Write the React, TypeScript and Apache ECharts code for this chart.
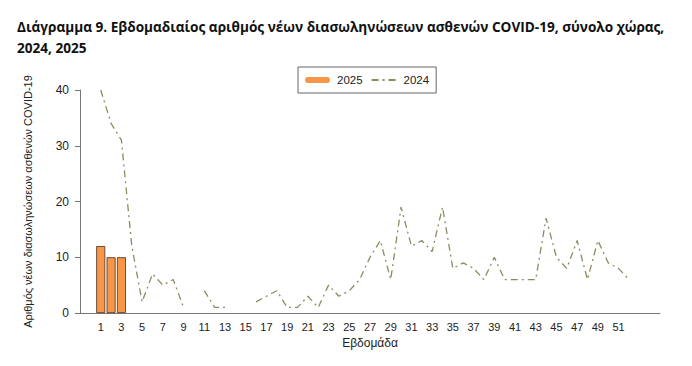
import React, { useEffect, useRef } from "react";
import * as echarts from "echarts";

const TITLE_LINE1 = "Διάγραμμα 9. Εβδομαδιαίος αριθμός νέων διασωληνώσεων ασθενών COVID-19, σύνολο χώρας,";
const TITLE_LINE2 = "2024, 2025";
const Y_NAME = "Αριθμός νέων διασωληνώσεων ασθενών COVID-19";
const X_NAME = "Εβδομάδα";

const weeks = [
  1, 2, 3, 4, 5, 6, 7, 8, 9, 10, 11, 12, 13, 14, 15, 16, 17, 18, 19, 20, 21, 22, 23, 24, 25, 26,
  27, 28, 29, 30, 31, 32, 33, 34, 35, 36, 37, 38, 39, 40, 41, 42, 43, 44, 45, 46, 47, 48, 49, 50, 51, 52,
];
// axis padding categories (no data) before week 1 and after week 52
const padBefore = ["-1", "0"];
const padAfter = ["53", "54", "55"];

const values2024: (number | null)[] = [
  40, 34, 31, 12, 2, 7, 5, 6, 1, null, 4, 1, 1, null, null, 2, 3, 4, 1, 1, 3, 1, 5, 3, 4, 6,
  10, 13, 6, 19, 12, 13, 11, 19, 8, 9, 8, 6, 10, 6, 6, 6, 6, 17, 10, 8, 13, 6, 13, 9, 8, 6,
];
const weeks2025 = [1, 2, 3];
const values2025 = [12, 10, 10];

const yTicks = { min: 0, max: 40, interval: 10 };

export default function App() {
  const ref = useRef<HTMLDivElement>(null);
  useEffect(() => {
    if (!ref.current) return;
    const chart = echarts.init(ref.current, undefined, { renderer: "svg" });
    const cats = [...padBefore, ...weeks.map(String), ...padAfter];
    const font = "Liberation Sans, Arial, sans-serif";
    chart.setOption({
      animation: false,
      textStyle: { fontFamily: font },
      title: {
        text: TITLE_LINE1 + "\n" + TITLE_LINE2,
        left: 12,
        top: 11,
        textStyle: {
          fontFamily: "Open Sans, sans-serif",
          fontWeight: "bold",
          fontSize: 13.6,
          lineHeight: 21,
          color: "#111",
        },
      },
      legend: {
        left: 298,
        top: 67,
        orient: "horizontal",
        borderColor: "#666",
        borderWidth: 1,
        padding: [7, 7, 7, 7],
        itemGap: 8,
        itemWidth: 25,
        itemHeight: 6,
        textStyle: { fontSize: 11.5, color: "#222", fontFamily: font, padding: [0, 0, 0, 2] },
        data: [
          {
            name: "2025",
            icon: "path://M3,0 L22,0 A3,3 0 0 1 22,6 L3,6 A3,3 0 0 1 3,0 Z",
            itemStyle: { borderWidth: 0, color: "#F79646" },
          },
          { name: "2024", itemStyle: { opacity: 0 } },
        ],
      },
      grid: { left: 80, right: 32, top: 90, bottom: 53, containLabel: false },
      xAxis: {
        type: "category",
        data: cats,
        boundaryGap: false,
        name: X_NAME,
        nameLocation: "middle",
        nameGap: 21,
        nameTextStyle: { fontSize: 12, color: "#222", fontFamily: font },
        axisLine: { show: true, lineStyle: { color: "#777", width: 1 } },
        axisTick: { show: false },
        axisLabel: {
          fontSize: 11,
          color: "#222",
          margin: 8,
          interval: (_i: number, v: string) => {
            const n = Number(v);
            return n >= 1 && n <= 51 && n % 2 === 1;
          },
        },
        splitLine: { show: false },
      },
      yAxis: {
        type: "value",
        min: yTicks.min,
        max: yTicks.max,
        interval: yTicks.interval,
        name: Y_NAME,
        nameLocation: "middle",
        nameGap: 47,
        nameTextStyle: { fontSize: 11, color: "#222", fontFamily: font },
        axisLine: { show: true, lineStyle: { color: "#777", width: 1 } },
        axisTick: { show: true, length: 5, lineStyle: { color: "#777" } },
        axisLabel: { fontSize: 12, color: "#222", margin: 11 },
        splitLine: { show: false },
      },
      series: [
        {
          name: "2025",
          type: "bar",
          barWidth: 9,
          data: weeks2025.map((w, i) => [String(w), values2025[i]]),
          itemStyle: { color: "#F79646", borderColor: "#4a3020", borderWidth: 0.8 },
        },
        {
          name: "2024",
          type: "line",
          symbol: "none",
          connectNulls: false,
          data: weeks.map((w, i) => [String(w), values2024[i]]),
          lineStyle: { color: "#8f8b60", width: 1.3, type: [7, 4, 2, 4] },
          itemStyle: { color: "#8f8b60" },
        },
      ],
    });
    return () => chart.dispose();
  }, []);
  return (
    <div
      ref={ref}
      style={{ position: "absolute", left: 0, top: 0, width: 692, height: 366 }}
    />
  );
}
